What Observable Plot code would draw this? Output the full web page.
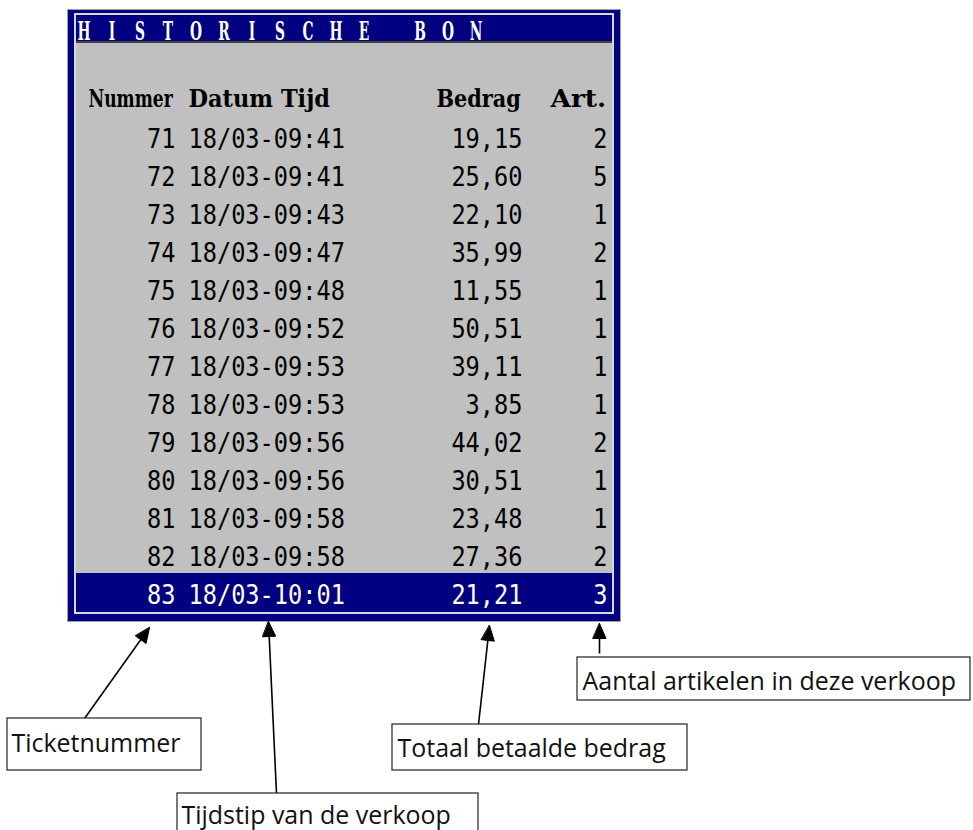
<!DOCTYPE html>
<html>
<head>
<meta charset="utf-8">
<script src="https://cdn.jsdelivr.net/npm/d3@7"></script>
<script src="https://cdn.jsdelivr.net/npm/@observablehq/plot@0.6"></script>
<style>
  html, body { margin: 0; padding: 0; background: #ffffff; }
  #chart svg { display: block; }
</style>
</head>
<body>
<div id="chart"></div>
<script>
// ---------- data ----------
const title = "HISTORISCHE BON";
const headers = ["Nummer", "Datum Tijd", "Bedrag", "Art."];
const nummer = [71, 72, 73, 74, 75, 76, 77, 78, 79, 80, 81, 82, 83];
const datumTijd = ["18/03-09:41", "18/03-09:41", "18/03-09:43", "18/03-09:47", "18/03-09:48",
  "18/03-09:52", "18/03-09:53", "18/03-09:53", "18/03-09:56", "18/03-09:56",
  "18/03-09:58", "18/03-09:58", "18/03-10:01"];
const bedrag = [19.15, 25.60, 22.10, 35.99, 11.55, 50.51, 39.11, 3.85, 44.02, 30.51, 23.48, 27.36, 21.21];
const artikelen = [2, 5, 1, 2, 1, 1, 1, 1, 2, 1, 1, 2, 3];
const selectedTicket = 83;
const annotationLabels = ["Ticketnummer", "Tijdstip van de verkoop", "Totaal betaalde bedrag", "Aantal artikelen in deze verkoop"];

// ---------- layout (pixel positions, styles) ----------
const W = 973, H = 830;
const NAVY = "#000080", SILVER = "#c0c0c0";
const L = {
  titleX0: 78, titlePitch: 28, titleBase: 39,
  headerBase: 106, rowBase0: 147, rowPitch: 38,
  numRight: 175, dateLeft: 188, bedragRight: 522, artRight: 607,
  hdrPitch: 14.3, hdrStarts: [88, 188, 436, 550]
};
const frameRects = [
  {x1: 67, y1: 9, x2: 621, y2: 622, fill: "#a0a0a0"},
  {x1: 68, y1: 10, x2: 620, y2: 621, fill: NAVY},
  {x1: 74, y1: 13, x2: 614, y2: 614, fill: "#d8d8d8"},
  {x1: 76, y1: 15, x2: 612, y2: 612, fill: SILVER},
  {x1: 76, y1: 15, x2: 612, y2: 41, fill: NAVY},
  {x1: 76, y1: 41, x2: 612, y2: 43, fill: "#404040"},
  {x1: 76, y1: 573, x2: 612, y2: 612, fill: NAVY}
];
const boxes = [
  {x1: 7, y1: 718, x2: 201, y2: 770, tx: 11, tb: 751, from: [84, 718], to: [149, 627]},
  {x1: 177, y1: 793, x2: 478, y2: 836, tx: 181, tb: 823, from: [276, 793], to: [268, 621]},
  {x1: 392, y1: 724, x2: 687, y2: 770, tx: 397, tb: 756, from: [478, 724], to: [489, 625]},
  {x1: 577, y1: 657, x2: 970, y2: 700, tx: 582, tb: 689, from: [599, 653], to: [599, 623]}
].map((b, i) => ({...b, label: annotationLabels[i]}));

// ---------- derived tables ----------
const fmt = v => v.toFixed(2).replace(".", ",");
const rows = nummer.map((n, i) => ({
  nummer: String(n), datum: datumTijd[i], bedrag: fmt(bedrag[i]), art: String(artikelen[i]),
  y: L.rowBase0 + i * L.rowPitch, color: n === selectedTicket ? "#ffffff" : "#000000"
}));
const titleChars = title.split("").map((c, i) => ({c, x: L.titleX0 + 5.5 + i * L.titlePitch}));
// header words fitted to a fixed character grid (console look)
const headerWords = headers.map((t, k) => ({t, x: L.hdrStarts[k], w: t.length * L.hdrPitch - 1.5}));
const headerWidth = new Map(headerWords.map(d => [d.t, d.w]));
const headLen = 15, headHalf = 6.5;
const shafts = [], heads = [];
boxes.forEach((b, k) => {
  const [x0, y0] = b.from, [x1, y1] = b.to;
  const dx = x1 - x0, dy = y1 - y0, len = Math.hypot(dx, dy);
  const ux = dx / len, uy = dy / len, px = -uy, py = ux;
  const bx = x1 - ux * headLen, by = y1 - uy * headLen;
  shafts.push({x1: x0, y1: y0, x2: bx + ux * 2, y2: by + uy * 2});
  heads.push({k, x: x1, y: y1}, {k, x: bx + px * headHalf, y: by + py * headHalf}, {k, x: bx - px * headHalf, y: by - py * headHalf});
});

// font sizes double as keys for the horizontal condensing below
const ROW_FS = 27, HDR_FS = 24, TITLE_FS = 26.5, ANNOT_FS = 26;
const squeezeBySize = {[ROW_FS]: 0.875, [TITLE_FS]: 0.52, [ANNOT_FS]: 0.96};

const monoFont = "'DejaVu Sans Mono', monospace";
const serifFont = "'DejaVu Serif', serif";
const rowText = (text, x, anchor) => Plot.text(rows, {x, y: "y", text, fill: "color", textAnchor: anchor,
  fontFamily: monoFont, fontSize: ROW_FS, lineAnchor: "bottom"});

const chart = Plot.plot({
  width: W, height: H, margin: 0,
  x: {type: "identity", axis: null},
  y: {type: "identity", axis: null},
  color: {type: "identity"},
  style: {background: "#ffffff", overflow: "visible"},
  marks: [
    Plot.rect(frameRects, {x1: "x1", y1: "y1", x2: "x2", y2: "y2", fill: "fill"}),
    Plot.text(titleChars, {x: "x", y: L.titleBase, text: "c", fill: "#ffffff", fontFamily: serifFont, fontWeight: "bold", fontSize: TITLE_FS, textAnchor: "middle", lineAnchor: "bottom"}),
    Plot.text(headerWords, {x: "x", y: L.headerBase, text: "t", fill: "#000000", fontFamily: serifFont, fontWeight: "bold", fontSize: HDR_FS, textAnchor: "start", lineAnchor: "bottom"}),
    rowText("nummer", L.numRight, "end"),
    rowText("datum", L.dateLeft, "start"),
    rowText("bedrag", L.bedragRight, "end"),
    rowText("art", L.artRight, "end"),
    Plot.link(shafts, {x1: "x1", y1: "y1", x2: "x2", y2: "y2", stroke: "#000000", strokeWidth: 1.6}),
    Plot.line(heads, {x: "x", y: "y", z: "k", fill: "#000000", stroke: "#000000", strokeWidth: 1, curve: "linear-closed"}),
    Plot.rect(boxes, {x1: "x1", y1: "y1", x2: "x2", y2: "y2", fill: "#ffffff", stroke: "#222222", strokeWidth: 1.2}),
    Plot.text(boxes, {x: "tx", y: "tb", text: "label", textAnchor: "start", lineAnchor: "bottom", fill: "#111111", fontFamily: "'Open Sans', sans-serif", fontSize: ANNOT_FS})
  ]
});
document.getElementById("chart").appendChild(chart);

// horizontally condense text glyphs around their anchor point
chart.querySelectorAll("text").forEach(el => {
  const fs = parseFloat(getComputedStyle(el).fontSize);
  let s = squeezeBySize[fs];
  if (fs === HDR_FS && headerWidth.has(el.textContent)) {
    s = headerWidth.get(el.textContent) / el.getComputedTextLength();
  }
  if (!s) return;
  const x = +(el.getAttribute("x") || 0), y = +(el.getAttribute("y") || 0);
  const t = el.getAttribute("transform") || "";
  el.removeAttribute("x"); el.removeAttribute("y");
  el.setAttribute("transform", `${t} translate(${x},${y}) scale(${s},1)`.trim());
});
</script>
</body>
</html>
